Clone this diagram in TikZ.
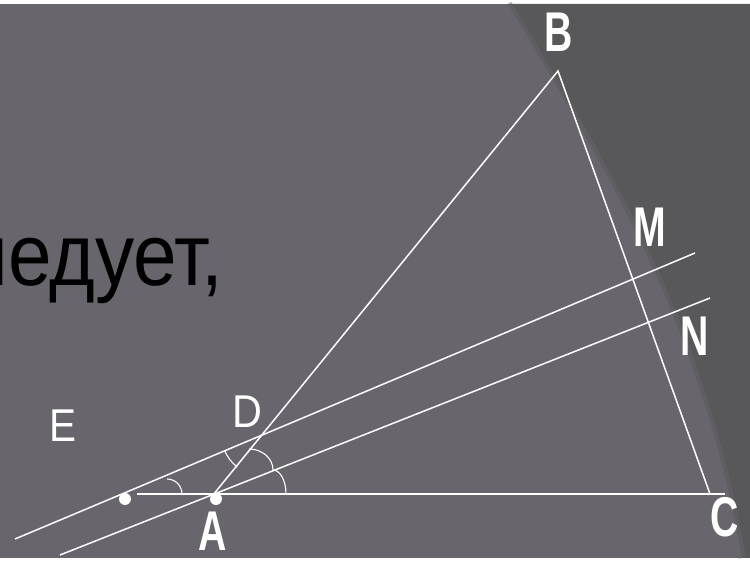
\documentclass[tikz,border=0pt]{standalone}
\usepackage{fontspec}
\setmainfont{Liberation Sans}
\usepackage{graphicx}
\definecolor{bghell}{RGB}{104,101,108}
\definecolor{bgdunkel}{RGB}{88,88,91}
\usetikzlibrary{calc}

% Punktnamen (schmal, gross)
\newcommand{\pname}[1]{\scalebox{0.7}[1]{\fontsize{56}{56}\selectfont\bfseries #1}}

\begin{document}
\begin{tikzpicture}[x=1pt, y=1pt,
    linie/.style={white, line width=1.5pt},
    bogen/.style={white, line width=1.1pt},
    punkt/.style={circle, fill=white, inner sep=0pt, minimum size=12pt},
    ecke/.style={text=white, inner sep=0pt},
    buchst/.style={text=white, inner sep=0pt, font=\fontsize{46}{46}\selectfont}]
    % Hintergrund
    \fill[bghell] (0,0) rectangle (750,554);
    \fill[bgdunkel] (508,554) .. controls (612,380) and (702,230) .. (742,0) -- (750,0) -- (750,554) -- cycle;
    \draw[bghell, line width=8pt, opacity=.5] (508,554) .. controls (612,380) and (702,230) .. (742,0);
    \useasboundingbox (0,0) rectangle (750,554);
    \clip (0,0) rectangle (750,554);
    % Text links
    \node[anchor=base east, inner sep=0pt, font=\fontsize{88}{90}\selectfont] (txt) at (224,272) {\scalebox{0.89}[1]{следует,}};
    % Punkte
    \coordinate (A) at (213,63);
    \coordinate (B) at (558,487);
    \coordinate (C) at (710,64);
    \coordinate (G1) at (137,64);
    \coordinate (G2) at (725,64);
    \coordinate (O1) at (15,19);
    \coordinate (O2) at (695,305);
    \coordinate (U1) at (60,3);
    \coordinate (U2) at (710,260);
    \coordinate (D) at (intersection of A--B and O1--O2);
    % Dreieck und Parallelen
    \draw[linie] (A) -- (B) -- (C);
    \draw[linie, line width=1.9pt] (G1) -- (G2);
    \draw[linie] (O1) -- (O2);
    \draw[linie] (U1) -- (U2);
    % Winkelboegen
    \draw[bogen] (182,64) arc[start angle=0, end angle=90, radius=15];
    \draw[bogen] ($(D)+(202.8:40)$) arc[start angle=202.8, end angle=232.7, radius=40];
    \draw[bogen] (249,109) arc[start angle=90, end angle=0, x radius=24, y radius=21];
    \draw[bogen] (273,88) arc[start angle=90, end angle=0, x radius=13, y radius=24];
    % markierte Punkte
    \node[punkt] (pE) at (125,59) {};
    \node[punkt] (pA) at (216,59) {};
    % Beschriftung
    \node[ecke] (lB) at (559,526) {\pname{B}};
    \node[ecke] (lC) at (725,41) {\pname{C}};
    \node[ecke] (lA) at (213,27) {\pname{A}};
    \node[ecke] (lM) at (650,331) {\pname{M}};
    \node[ecke] (lN) at (695,222) {\pname{N}};
    \node[buchst] (lE) at (63,132) {\scalebox{0.88}[1]{E}};
    \node[buchst] (lD) at (247,146) {\scalebox{0.9}[1]{D}};
\end{tikzpicture}
\end{document}
